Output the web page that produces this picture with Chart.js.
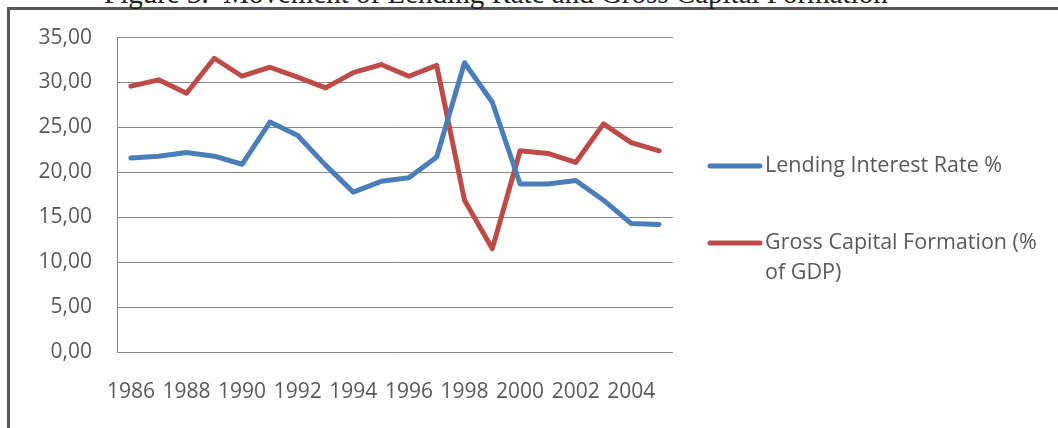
<!DOCTYPE html>
<html>
<head>
<meta charset="utf-8">
<script src="https://cdn.jsdelivr.net/npm/chart.js@4.4.0/dist/chart.umd.min.js"></script>
<style>
  html, body { margin: 0; padding: 0; background: #ffffff; }
  #wrap { position: relative; width: 1058px; height: 428px; overflow: hidden; background: #ffffff; }
  #frame { position: absolute; left: 7px; top: 7px; width: 1100px; height: 500px;
           border-top: 3px solid #575757; border-left: 3px solid #575757; }
  #caption { position: absolute; left: 104px; top: -21px; white-space: pre;
             font-family: "Liberation Serif", "DejaVu Serif", serif; font-size: 29px; line-height: 29px; color: #222; }
  #chart { position: absolute; left: 0; top: 0; }
</style>
</head>
<body>
<div id="wrap">
  <div id="frame"></div>
  <div id="caption">Figure 3.  Movement of Lending Rate and Gross Capital Formation</div>
  <canvas id="chart" width="1058" height="428"></canvas>
</div>
<script>
// Years on the category axis
const years = ['1986','1987','1988','1989','1990','1991','1992','1993','1994','1995',
               '1996','1997','1998','1999','2000','2001','2002','2003','2004','2005'];
// Years that carry a tick label
const tickLabels = ['1986','1988','1990','1992','1994','1996','1998','2000','2002','2004'];

const lendingRate = [21.6, 21.8, 22.2, 21.8, 20.9, 25.6, 24.1, 20.8, 17.8, 19.0,
                     19.4, 21.7, 32.2, 27.8, 18.7, 18.7, 19.1, 16.9, 14.3, 14.2];
const grossCapital = [29.6, 30.3, 28.8, 32.7, 30.7, 31.7, 30.6, 29.4, 31.1, 32.0,
                      30.7, 31.9, 16.9, 11.5, 22.4, 22.1, 21.1, 25.4, 23.3, 22.4];

const seriesNames = ['Lending Interest Rate %', 'Gross Capital Formation (% of GDP)'];

const TEXT = '#595959';
const GRID = '#8a8a8a';
const FONT = '"Open Sans", "Liberation Sans", sans-serif';

// Legend drawn at the right of the plot, with wrapped labels
const sideLegend = {
  id: 'sideLegend',
  afterDraw(chart) {
    const ctx = chart.ctx;
    const x0 = 710, lineLen = 50, textX = 765, maxW = 290, lineH = 30;
    const rows = [166, 243];
    ctx.save();
    ctx.font = '21.5px ' + FONT;
    ctx.textBaseline = 'middle';
    ctx.textAlign = 'left';
    chart.data.datasets.forEach((ds, i) => {
      const y = rows[i];
      ctx.strokeStyle = ds.borderColor;
      ctx.lineWidth = 5;
      ctx.lineCap = 'round';
      ctx.beginPath();
      ctx.moveTo(x0, y);
      ctx.lineTo(x0 + lineLen, y);
      ctx.stroke();
      // simple word wrap
      const words = ds.label.split(' ');
      const lines = [];
      let cur = '';
      words.forEach(w => {
        const test = cur ? cur + ' ' + w : w;
        if (ctx.measureText(test).width > maxW && cur) { lines.push(cur); cur = w; }
        else cur = test;
      });
      if (cur) lines.push(cur);
      ctx.fillStyle = TEXT;
      lines.forEach((ln, k) => ctx.fillText(ln, textX, y + k * lineH));
    });
    ctx.restore();
  }
};

new Chart(document.getElementById('chart'), {
  type: 'line',
  data: {
    labels: years,
    datasets: [
      { label: seriesNames[0], data: lendingRate, borderColor: '#4a7ebb', borderWidth: 5,
        pointRadius: 0, tension: 0, fill: false },
      { label: seriesNames[1], data: grossCapital, borderColor: '#be4b48', borderWidth: 5,
        pointRadius: 0, tension: 0, fill: false }
    ]
  },
  options: {
    responsive: false,
    animation: false,
    layout: { padding: { left: 0, right: 385, top: 37, bottom: 0 } },
    plugins: { legend: { display: false }, tooltip: { enabled: false }, title: { display: false } },
    elements: { line: { borderJoinStyle: 'round', borderCapStyle: 'round' } },
    scales: {
      x: {
        offset: true,
        grid: { display: false, drawTicks: false },
        border: { display: false },
        afterFit(scale) { scale.height = 76; },
        ticks: {
          autoSkip: false, maxRotation: 0, minRotation: 0, padding: 27,
          color: TEXT, font: { family: FONT, size: 21 },
          callback(v, i) { const y = years[i]; return tickLabels.includes(y) ? y : ''; }
        }
      },
      y: {
        min: 0, max: 35,
        grid: { color: GRID, lineWidth: 1, drawTicks: false },
        border: { display: true, color: GRID, width: 1 },
        afterFit(scale) { scale.width = 117; },
        ticks: {
          stepSize: 5, padding: 25, color: TEXT, font: { family: FONT, size: 21 },
          callback(v) { return v.toFixed(2).replace('.', ','); }
        }
      }
    }
  },
  plugins: [sideLegend]
});
</script>
</body>
</html>
